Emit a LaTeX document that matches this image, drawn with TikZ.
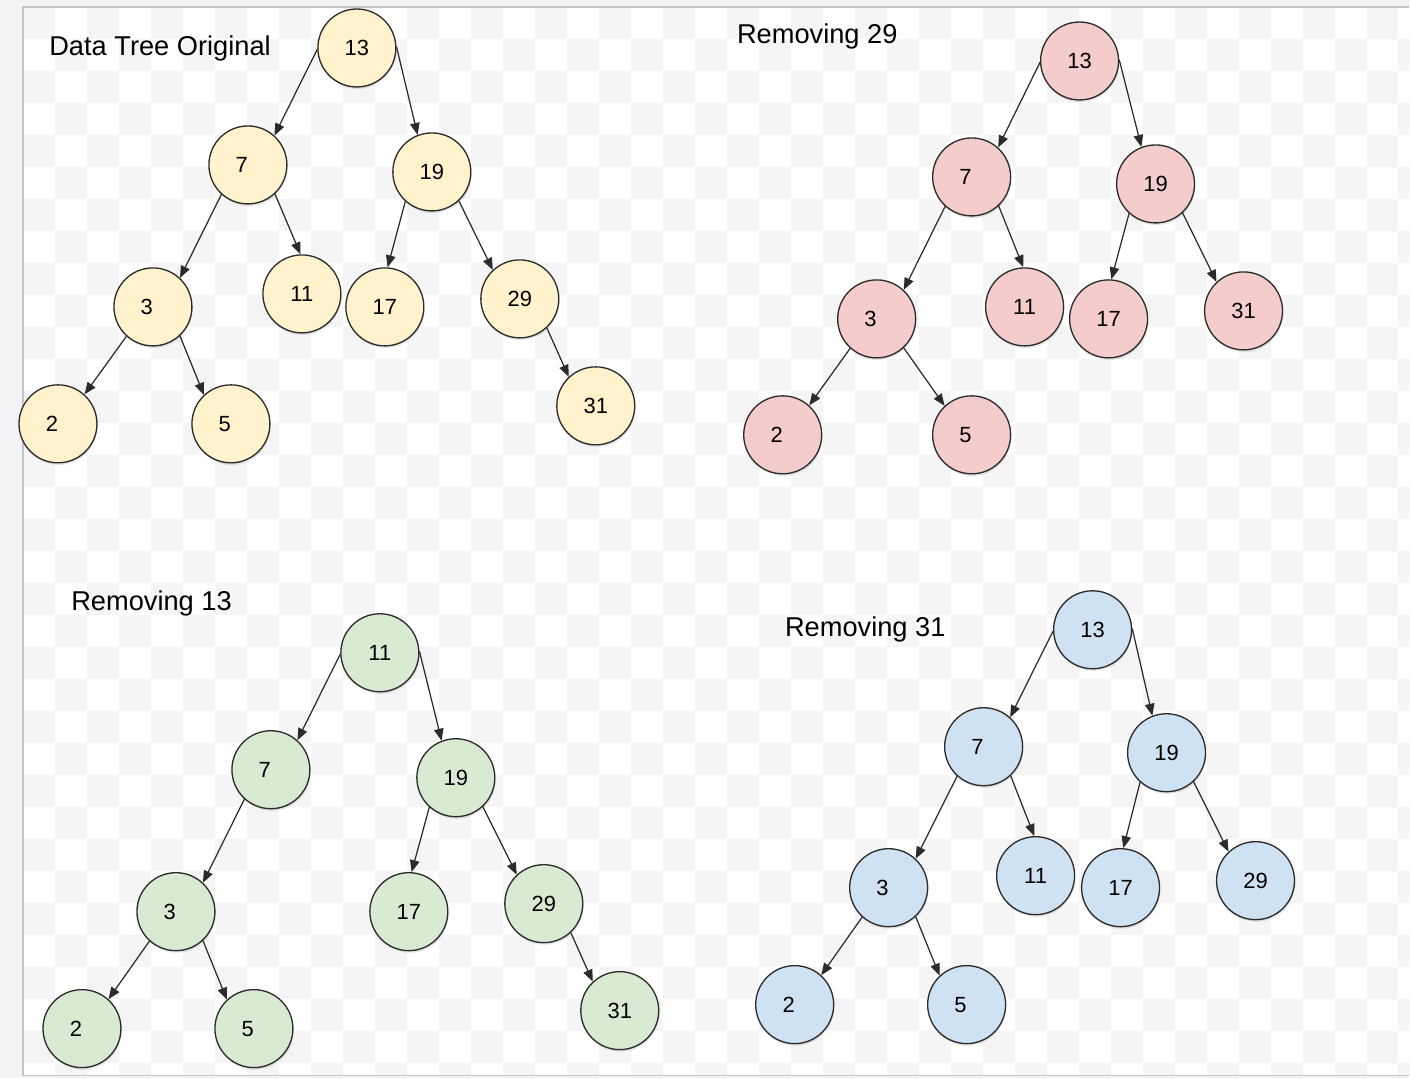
\documentclass[tikz,border=0pt]{standalone}
\usepackage{fontspec}
\setmainfont{Liberation Sans}
\usepackage{tikz}
\usetikzlibrary{arrows.meta,shadows}

\definecolor{keyyellow}{HTML}{FFF2CC}
\definecolor{keyred}{HTML}{F4CCCC}
\definecolor{keygreen}{HTML}{D9EAD3}
\definecolor{keyblue}{HTML}{CFE2F3}
\definecolor{pagegray}{HTML}{F1F3F5}
\definecolor{framegray}{HTML}{C4C4C4}
\definecolor{checkgray}{HTML}{F5F5F5}
\definecolor{inkgray}{HTML}{2B2B2B}
\newcommand{\onedigit}[1]{#1\hphantom{0}}

\begin{document}
\begin{tikzpicture}[x=0.02cm,y=-0.02cm]
\tikzstyle{every node}+=[inner sep=0pt]
\tikzstyle{key}=[circle, draw=inkgray, line width=0.75pt, minimum size=1.56cm, font=\fontsize{12.5}{14}\selectfont, drop shadow={shadow xshift=0.4pt, shadow yshift=-1.2pt, opacity=0.22}]
\tikzstyle{ykey}=[key, fill=keyyellow]
\tikzstyle{rkey}=[key, fill=keyred]
\tikzstyle{gkey}=[key, fill=keygreen]
\tikzstyle{bkey}=[key, fill=keyblue]
\tikzstyle{link}=[-{Triangle[length=0.24cm,width=0.19cm]}, line width=0.7pt, inkgray]
\tikzstyle{heading}=[anchor=base west, font=\fontsize{15.5}{18}\selectfont]
% page and checkerboard
\fill [pagegray] (0,0) rectangle (1410,1078);
\fill [white] (23,7) rectangle (1410,1076);
\begin{scope}
\clip (23,7) rectangle (1410,1076);
\foreach \i in {0,...,43}
  \foreach \j in {0,...,33}
  {\pgfmathparse{int(mod(\i+\j,2))}
   \ifnum\pgfmathresult=0 \fill [checkgray] (23+32*\i,7+32*\j) rectangle +(32,32); \fi}
\end{scope}
\draw [framegray, line width=0.6pt] (1410,7) -- (23,7) -- (23,1076) -- (1410,1076);
% titles
\node [heading] (t1) at (49,56) {Data Tree Original};
\node [heading] (t2) at (737,44) {Removing 29};
\node [heading] (t3) at (71,611) {Removing 13};
\node [heading] (t4) at (785,637) {Removing 31};
% original tree
\node [ykey] (a13) at (357,48) {13};
\node [ykey] (a7) at (248,165) {\onedigit{7}};
\node [ykey] (a19) at (432,172) {19};
\node [ykey] (a3) at (153,307) {\onedigit{3}};
\node [ykey] (a11) at (302,294) {11};
\node [ykey] (a17) at (385,307) {17};
\node [ykey] (a29) at (520,299) {29};
\node [ykey] (a2) at (58,424) {\onedigit{2}};
\node [ykey] (a5) at (231,424) {\onedigit{5}};
\node [ykey] (a31) at (596,406) {31};
\draw [link] (a13.182) -- (a7.48);
\draw [link] (a13.2) -- (a19.111);
\draw [link] (a7.228) -- (a3.47);
\draw [link] (a7.-47) -- (a11.92);
\draw [link] (a19.228) -- (a17.86);
\draw [link] (a19.-47) -- (a29.133);
\draw [link] (a29.-47) -- (a31.133);
\draw [link] (a3.228) -- (a2.48);
\draw [link] (a3.-47) -- (a5.133);
% removing 29
\node [rkey] (b13) at (1080,61) {13};
\node [rkey] (b7) at (972,177) {\onedigit{7}};
\node [rkey] (b19) at (1156,184) {19};
\node [rkey] (b3) at (877,319) {\onedigit{3}};
\node [rkey] (b11) at (1025,307) {11};
\node [rkey] (b17) at (1109,319) {17};
\node [rkey] (b31) at (1244,311) {31};
\node [rkey] (b2) at (783,435) {\onedigit{2}};
\node [rkey] (b5) at (972,435) {\onedigit{5}};
\draw [link] (b13.182) -- (b7.48);
\draw [link] (b13.2) -- (b19.111);
\draw [link] (b7.228) -- (b3.47);
\draw [link] (b7.-47) -- (b11.92);
\draw [link] (b19.228) -- (b17.86);
\draw [link] (b19.-47) -- (b31.133);
\draw [link] (b3.228) -- (b2.48);
\draw [link] (b3.-47) -- (b5.133);
% removing 13
\node [gkey] (c11) at (380,653) {11};
\node [gkey] (c7) at (271,770) {\onedigit{7}};
\node [gkey] (c19) at (456,778) {19};
\node [gkey] (c3) at (176,912) {\onedigit{3}};
\node [gkey] (c17) at (409,912) {17};
\node [gkey] (c29) at (544,904) {29};
\node [gkey] (c2) at (82,1029) {\onedigit{2}};
\node [gkey] (c5) at (254,1029) {\onedigit{5}};
\node [gkey] (c31) at (620,1011) {31};
\draw [link] (c11.182) -- (c7.48);
\draw [link] (c11.2) -- (c19.111);
\draw [link] (c7.228) -- (c3.47);
\draw [link] (c19.228) -- (c17.86);
\draw [link] (c19.-47) -- (c29.133);
\draw [link] (c29.-47) -- (c31.133);
\draw [link] (c3.228) -- (c2.48);
\draw [link] (c3.-47) -- (c5.133);
% removing 31
\node [bkey] (d13) at (1093,630) {13};
\node [bkey] (d7) at (984,747) {\onedigit{7}};
\node [bkey] (d19) at (1167,753) {19};
\node [bkey] (d3) at (889,888) {\onedigit{3}};
\node [bkey] (d11) at (1036,876) {11};
\node [bkey] (d17) at (1121,888) {17};
\node [bkey] (d29) at (1256,881) {29};
\node [bkey] (d2) at (795,1005) {\onedigit{2}};
\node [bkey] (d5) at (967,1005) {\onedigit{5}};
\draw [link] (d13.182) -- (d7.48);
\draw [link] (d13.2) -- (d19.111);
\draw [link] (d7.228) -- (d3.47);
\draw [link] (d7.-47) -- (d11.92);
\draw [link] (d19.228) -- (d17.86);
\draw [link] (d19.-47) -- (d29.133);
\draw [link] (d3.228) -- (d2.48);
\draw [link] (d3.-47) -- (d5.133);
\end{tikzpicture}
\end{document}
